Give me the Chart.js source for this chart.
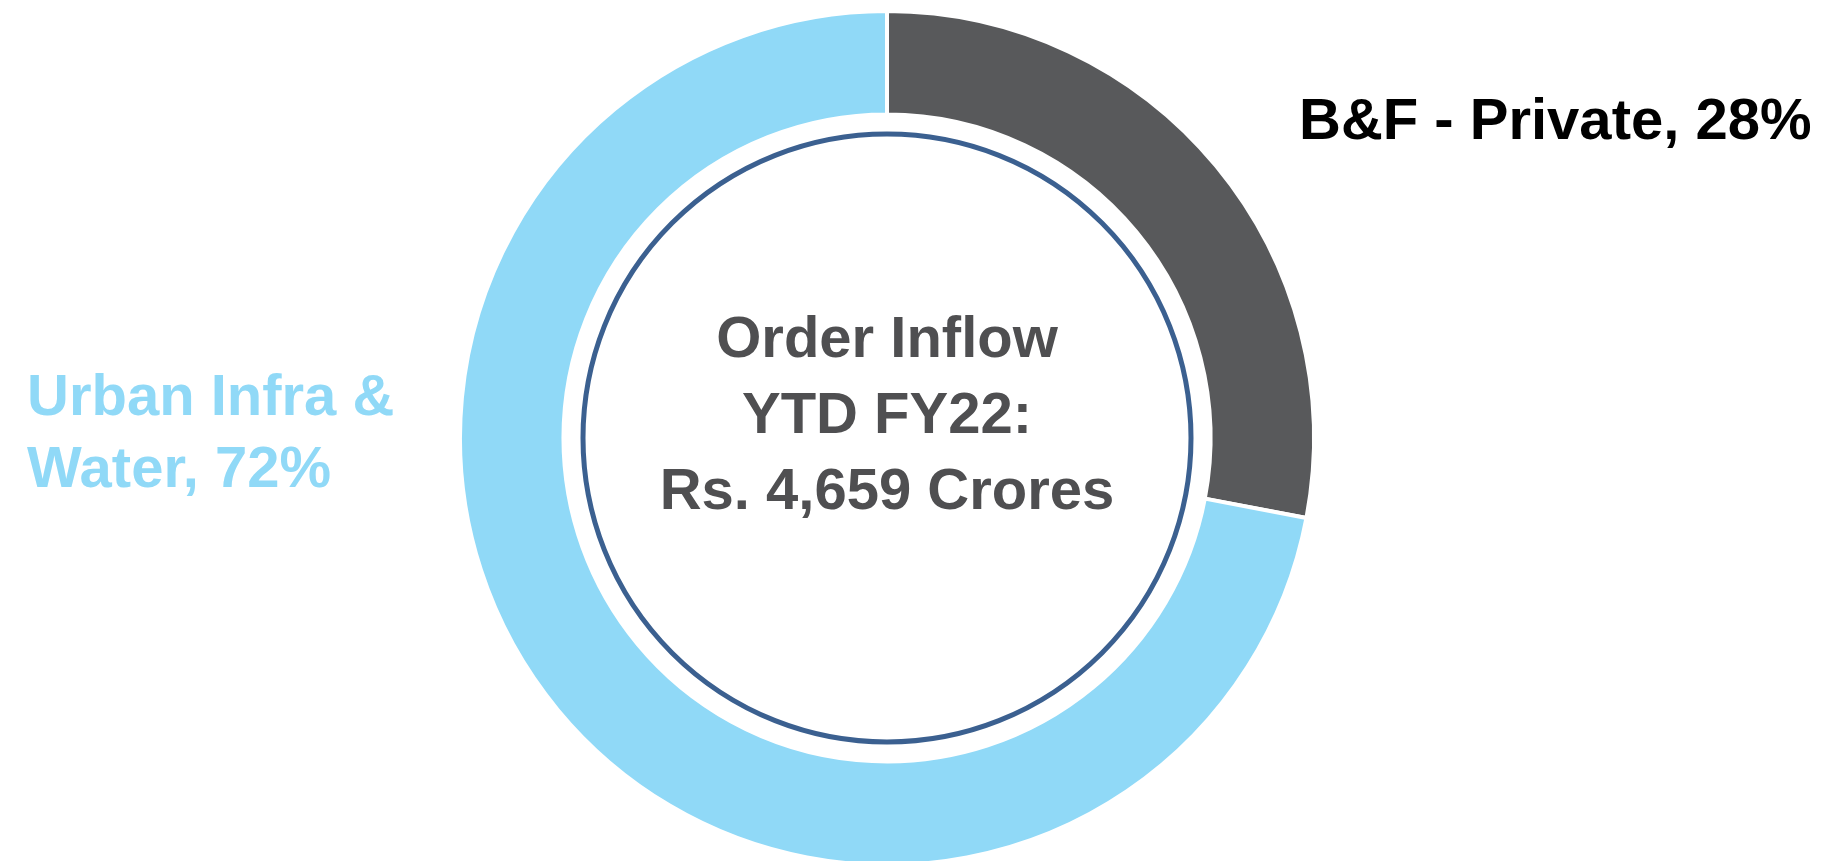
<!DOCTYPE html>
<html>
<head>
<meta charset="utf-8">
<script src="https://cdn.jsdelivr.net/npm/chart.js@4"></script>
<style>
  html, body { margin: 0; padding: 0; background: #fff; overflow: hidden; }
  #wrap { width: 1826px; height: 861px; position: relative; }
</style>
</head>
<body>
<div id="wrap"><canvas id="donut"></canvas></div>
<script>
// dados do gráfico
const categorias = ['B&F - Private', 'Urban Infra & Water'];
const valores = [28, 72];
const cores = ['#58595b', '#90d9f7'];
const textoCentro = ['Order Inflow', 'YTD FY22:', 'Rs. 4,659 Crores'];

// círculo interno + textos
const extras = {
    id: 'extras',
    afterDatasetsDraw(chart) {
        const ctx = chart.ctx;
        const arc = chart.getDatasetMeta(0).data[0];
        const cx = arc.x, cy = arc.y;

        ctx.save();
        ctx.beginPath();
        ctx.arc(cx, cy, 304, 0, Math.PI * 2);
        ctx.lineWidth = 5;
        ctx.strokeStyle = '#3b6090';
        ctx.stroke();

        ctx.font = 'bold 58px "Liberation Sans", Arial, sans-serif';
        ctx.fillStyle = '#4f4f51';
        ctx.textAlign = 'center';
        ctx.textBaseline = 'alphabetic';
        textoCentro.forEach((t, i) => ctx.fillText(t, cx, 357 + i * 76));

        ctx.textAlign = 'left';
        ctx.fillStyle = '#000000';
        ctx.fillText(categorias[0] + ', ' + valores[0] + '%', 1299, 139);

        ctx.fillStyle = cores[1];
        ctx.fillText('Urban Infra &', 27, 415);
        ctx.fillText('Water, ' + valores[1] + '%', 27, 487);
        ctx.restore();
    }
};

new Chart(document.getElementById('donut'), {
    type: 'doughnut',
    data: {
        labels: categorias,
        datasets: [{
            data: valores,
            backgroundColor: cores,
            borderColor: '#ffffff',
            borderWidth: 4,
            hoverOffset: 0,
            clip: false
        }]
    },
    options: {
        responsive: true,
        maintainAspectRatio: false,
        animation: false,
        radius: 427,
        cutout: 319,
        layout: { padding: { left: 0, right: 52, top: 15, bottom: 0 } },
        plugins: {
            legend: { display: false },
            tooltip: { enabled: false }
        }
    },
    plugins: [extras]
});
</script>
</body>
</html>
